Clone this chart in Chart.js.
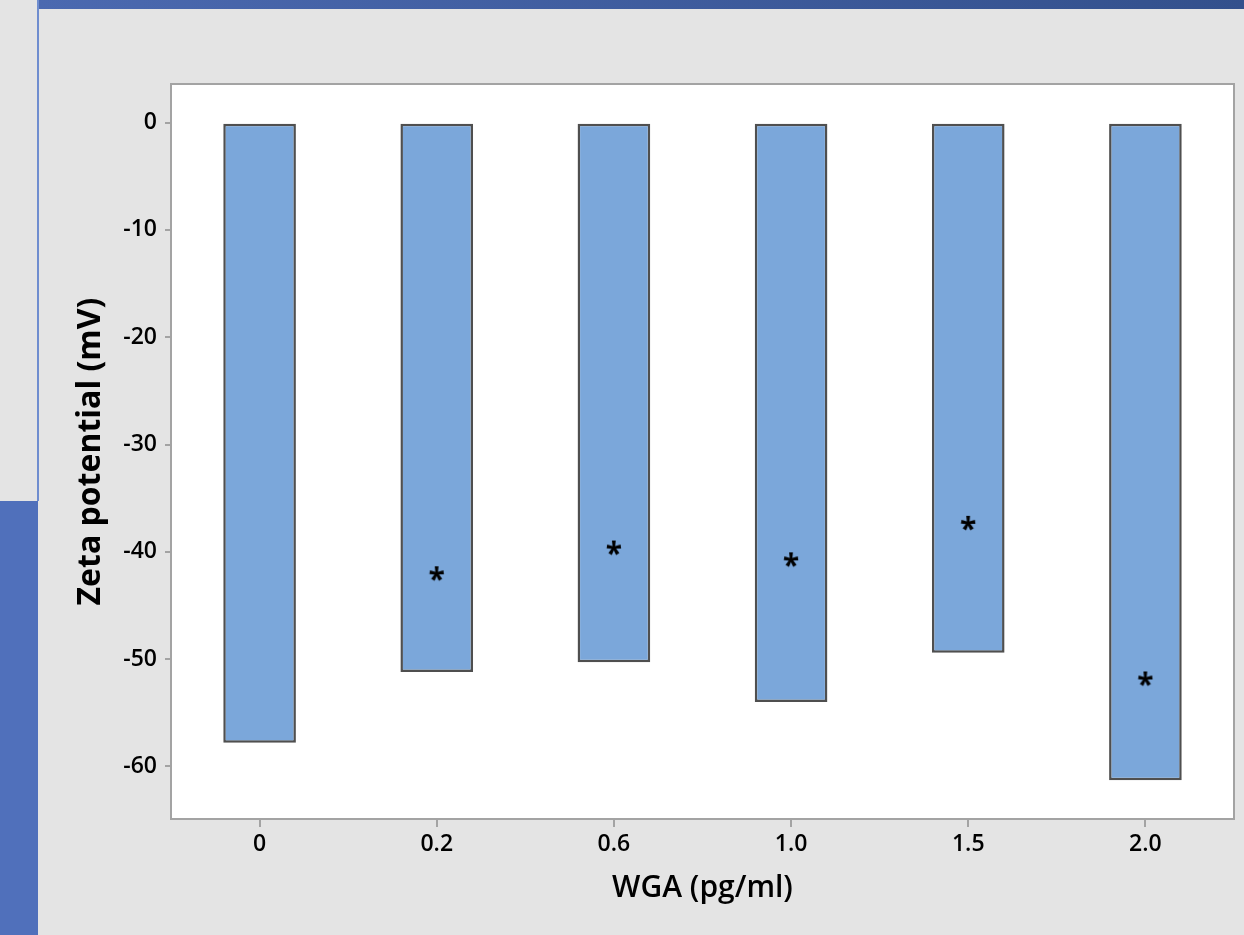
<!DOCTYPE html>
<html>
<head>
<meta charset="utf-8">
<script src="https://cdn.jsdelivr.net/npm/chart.js@4.4.0/dist/chart.umd.min.js"></script>
<style>
  html, body { margin: 0; padding: 0; background: #e4e4e4; overflow: hidden; }
  #wrap { position: relative; width: 1244px; height: 935px; }
  #topbar { position: absolute; left: 38px; top: 0; width: 1206px; height: 9px;
            background: linear-gradient(to right, #4b69b0, #33508c); }
  #vline { position: absolute; left: 37px; top: 0; width: 2px; height: 501px; background: #6f8dcf; }
  #sidepanel { position: absolute; left: 0; top: 501px; width: 38px; height: 434px; background: #5070bb; }
  canvas { position: absolute; left: 0; top: 0; }
</style>
</head>
<body>
<div id="wrap">
  <div id="topbar"></div>
  <div id="vline"></div>
  <div id="sidepanel"></div>
  <canvas id="graficoZeta" width="1244" height="935"></canvas>
</div>
<script>
// Dados
const categorias = ['0', '0.2', '0.6', '1.0', '1.5', '2.0'];
const zetaMedia = [-57.8, -51.2, -50.3, -54.0, -49.4, -61.3];
const asteriscos = [null, -42.0, -39.6, -40.7, -37.3, -51.8];
const yTicks = [0, -10, -20, -30, -40, -50, -60];

// Asterisco desenhado num canvas para usar como pointStyle
function criarAsterisco() {
  const c = document.createElement('canvas');
  c.width = 44; c.height = 44;
  const g = c.getContext('2d');
  g.font = 'bold 30px "Open Sans"';
  g.fillStyle = '#000';
  g.textAlign = 'center';
  g.textBaseline = 'alphabetic';
  const m = g.measureText('*');
  const topo = m.actualBoundingBoxAscent;
  const base = -m.actualBoundingBoxDescent;
  // centra o glifo verticalmente no canvas
  g.fillText('*', 22, 22 + (topo + base) / 2);
  return c;
}

// Fundo branco e moldura da área do gráfico
const fundoArea = {
  id: 'fundoArea',
  beforeDraw(chart) {
    const { ctx, chartArea: a } = chart;
    ctx.save();
    ctx.fillStyle = '#ffffff';
    ctx.fillRect(a.left, a.top, a.right - a.left, a.bottom - a.top);
    ctx.strokeStyle = '#a3a3a3';
    ctx.lineWidth = 2;
    ctx.strokeRect(a.left, a.top, a.right - a.left, a.bottom - a.top);
    ctx.restore();
  }
};

const fonteTick = { family: '"Open Sans", sans-serif', size: 23, weight: '600' };
const fonteTituloX = { family: '"Open Sans", sans-serif', size: 30, weight: '600' };
const fonteTituloY = { family: '"Open Sans", sans-serif', size: 32, weight: '700' };

document.fonts.load('bold 30px "Open Sans"').then(() => {
  const ctx = document.getElementById('graficoZeta').getContext('2d');
  new Chart(ctx, {
    type: 'bar',
    data: {
      labels: categorias,
      datasets: [
        {
          type: 'line',
          data: asteriscos,
          showLine: false,
          pointStyle: criarAsterisco(),
          order: 0
        },
        {
          data: zetaMedia,
          backgroundColor: '#7ba7da',
          borderColor: '#4f4f4f',
          borderWidth: 2.5,
          borderSkipped: false,
          categoryPercentage: 1,
          barPercentage: 0.41,
          order: 1
        }
      ]
    },
    options: {
      responsive: false,
      animation: false,
      layout: { padding: { top: 84, right: 10, left: 0, bottom: 0 } },
      plugins: { legend: { display: false }, tooltip: { enabled: false } },
      scales: {
        x: {
          offset: true,
          grid: { display: true, offset: false, drawOnChartArea: false, drawTicks: true, tickLength: 8, color: '#a3a3a3', lineWidth: 2 },
          border: { display: true, color: '#a3a3a3', width: 2 },
          ticks: { color: '#000', font: fonteTick, padding: 4 },
          title: { display: true, text: 'WGA (pg/ml)', color: '#000', font: fonteTituloX, padding: { top: 0, bottom: 29 } },
          afterFit(scale) { scale.height = 116; }
        },
        y: {
          min: -64.9,
          max: 3.6,
          afterBuildTicks(scale) { scale.ticks = yTicks.map(v => ({ value: v })); },
          grid: { display: true, drawOnChartArea: false, drawTicks: true, tickLength: 6, color: '#a3a3a3', lineWidth: 2 },
          border: { display: true, color: '#a3a3a3', width: 2 },
          ticks: { color: '#000', font: fonteTick, padding: 8 },
          title: { display: true, text: 'Zeta potential (mV)', color: '#000', font: fonteTituloY, padding: { top: 72, bottom: 0 } },
          afterFit(scale) { scale.width = 171; }
        }
      }
    },
    plugins: [fundoArea]
  });
});
</script>
</body>
</html>
